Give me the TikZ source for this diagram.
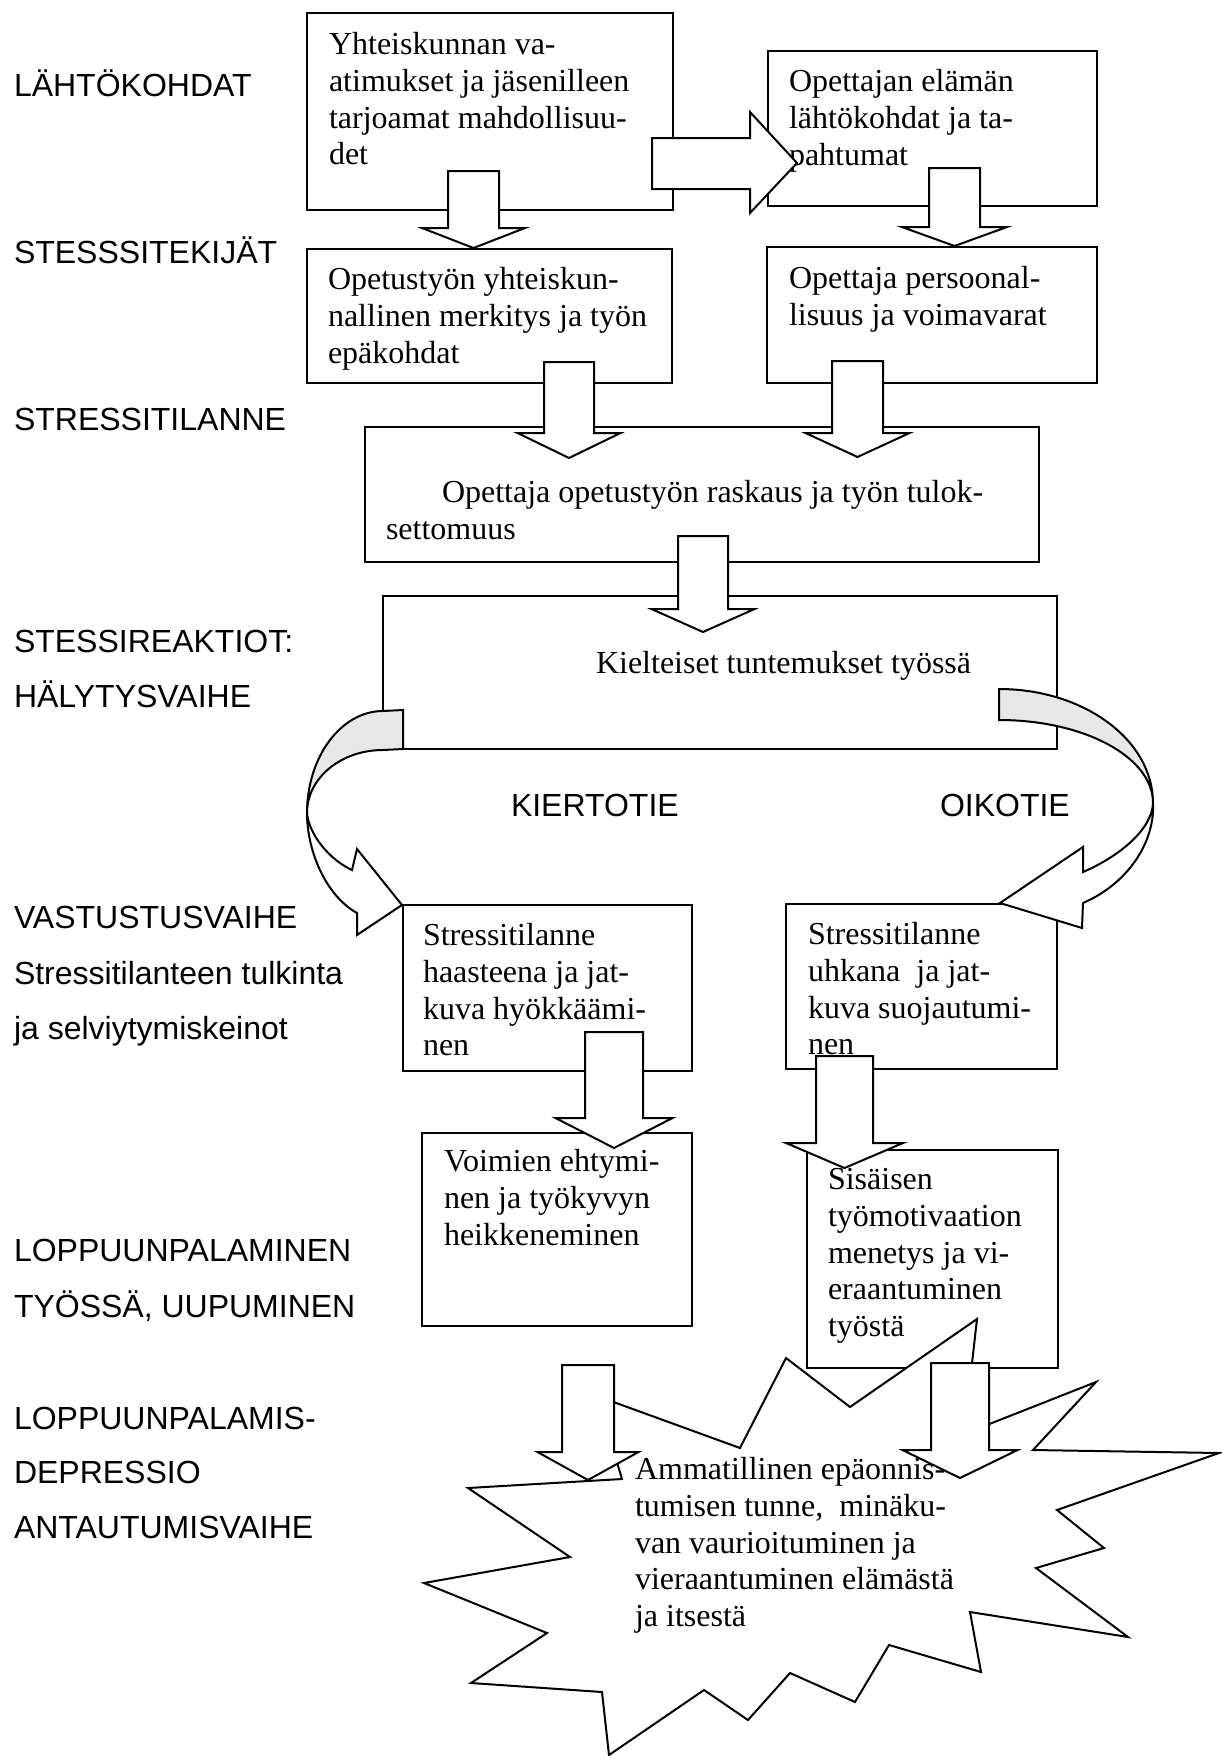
\documentclass[tikz,border=0pt]{standalone}
\usepackage{fontspec}
\setmainfont{Liberation Serif}
\newfontfamily\labelfont{Liberation Sans}
\usetikzlibrary{fit}
\begin{document}
\begin{tikzpicture}[x=0.5pt,y=-0.5pt,line width=1pt,
    box/.style={draw,inner sep=0pt},
    txt/.style={anchor=north west,inner sep=0pt,align=left,font=\fontsize{16}{18.35}\selectfont},
    lbl/.style={anchor=base west,inner sep=0pt,font=\labelfont\fontsize{16}{19}\selectfont},
    blk/.style={draw,fill=white},
    band/.style={draw,fill=gray!18}]
    \useasboundingbox (0,0) rectangle (1221,1756);
    \node[box,fit={(307,13) (673,210)}] (yhteis) {};
    \node[box,fit={(768,51) (1097,206)}] (elama) {};
    \node[box,fit={(307,249) (672,383)}] (merkitys) {};
    \node[box,fit={(767,247) (1097,383)}] (persoona) {};
    \node[box,fit={(365,427) (1039,562)}] (raskaus) {};
    \node[box,fit={(383,596) (1057,749)}] (kielteiset) {};
    \node[box,fit={(403,905) (692,1071)}] (haaste) {};
    \node[box,fit={(786,904) (1057,1069)}] (uhka) {};
    \node[box,fit={(422,1133) (692,1326)}] (voimat) {};
    \node[box,fit={(807,1150) (1058,1368)}] (motiv) {};
    \draw[blk] (597,1396) -- (740,1448) -- (786,1358) -- (850,1407) -- (977,1319) -- (964,1434)
        -- (1096,1382) -- (1033,1450) -- (1219,1453) -- (1057,1510) -- (1104,1548) -- (1036,1568)
        -- (1128,1637) -- (970,1612) -- (981,1672) -- (889,1645) -- (855,1702) -- (790,1673)
        -- (748,1720) -- (704,1690) -- (609,1755) -- (602,1692) -- (471,1683) -- (547,1633)
        -- (424,1583) -- (570,1557) -- (468,1488) -- (622,1479) -- cycle;
    \node[txt] (yhteis-t) at ([shift={(22,16)}]yhteis.north west) {\strut Yhteiskunnan va-\\atimukset ja jäsenilleen\\tarjoamat mahdollisuu-\\det};
    \node[txt] (elama-t) at ([shift={(21,15)}]elama.north west) {\strut Opettajan elämän\\lähtökohdat ja ta-\\pahtumat};
    \node[txt] (merkitys-t) at ([shift={(21,15)}]merkitys.north west) {\strut Opetustyön yhteiskun-\\nallinen merkitys ja työn\\epäkohdat};
    \node[txt] (persoona-t) at ([shift={(22,16)}]persoona.north west) {\strut Opettaja persoonal-\\lisuus ja voimavarat};
    \node[txt] (raskaus-t) at ([shift={(21,50)}]raskaus.north west) {\strut\hspace*{28pt}Opettaja opetustyön raskaus ja työn tulok-\\settomuus};
    \node[txt] (kielteiset-t) at ([shift={(213,52)}]kielteiset.north west) {\strut Kielteiset tuntemukset työssä};
    \node[txt] (haaste-t) at ([shift={(20,15)}]haaste.north west) {\strut Stressitilanne\\haasteena ja jat-\\kuva hyökkäämi-\\nen};
    \node[txt] (uhka-t) at ([shift={(22,15)}]uhka.north west) {\strut Stressitilanne\\uhkana\ \ ja jat-\\kuva suojautumi-\\nen};
    \node[txt] (voimat-t) at ([shift={(22,13)}]voimat.north west) {\strut Voimien ehtymi-\\nen ja työkyvyn\\heikkeneminen};
    \node[txt] (motiv-t) at ([shift={(21,14)}]motiv.north west) {\strut Sisäisen\\työmotivaation\\menetys ja vi-\\eraantuminen\\työstä};
    \node[txt] (tunne) at (634,1453) {\strut Ammatillinen epäonnis-\\tumisen tunne,\ \ minäku-\\van vaurioituminen ja\\vieraantuminen elämästä\\ja itsestä};
    \draw[band] (403,710) -- (403,749) -- (383,750) .. controls (341,750) and (307,778) .. (307,813)
        .. controls (307,757) and (341,711) .. (383,711) -- cycle;
    \draw[blk] (307,813) .. controls (309,835) and (330,860) .. (352,870) -- (357,849) -- (402,905)
        -- (357,935) -- (357,913) .. controls (325,895) and (307,850) .. (307,813) -- cycle;
    \draw[band] (999,689) -- (999,720) .. controls (1084,720) and (1153,757) .. (1153,803)
        .. controls (1153,740) and (1084,689) .. (999,689) -- cycle;
    \draw[blk] (1153,803) .. controls (1152,830) and (1118,857) .. (1083,872) -- (1083,847) -- (1000,903)
        -- (1082,928) -- (1083,903) .. controls (1125,885) and (1155,845) .. (1153,803) -- cycle;
    \draw[blk] (652,138) -- (750,138) -- (750,112) -- (797,163) -- (750,213) -- (750,189) -- (652,189) -- cycle;
    \foreach \xc/\yt/\yh/\yp/\sw/\hw in {473.5/171/228/248/25.5/51.5, 954.5/168/227/246/25.5/52.5,
        569/362/433/458/25/51.5, 857.5/361/433/457/25.5/52, 703/536/609/632/25/51.5,
        614/1032/1118/1148/29/58.5, 844.5/1056/1143/1168/28.5/58.5,
        588/1365/1452/1480/26/50.5, 960/1363/1450/1478/29/57.5}{
            \draw[blk] (\xc-\sw,\yt) -- (\xc+\sw,\yt) -- (\xc+\sw,\yh) -- (\xc+\hw,\yh) -- (\xc,\yp)
                -- (\xc-\hw,\yh) -- (\xc-\sw,\yh) -- cycle;
        }
    \node[lbl] (lahto) at (13,96) {LÄHTÖKOHDAT};
    \node[lbl] (tekijat) at (13,263) {STESSSITEKIJÄT};
    \node[lbl] (tilanne) at (13,430) {STRESSITILANNE};
    \node[lbl] (reaktiot) at (13,652) {STESSIREAKTIOT:};
    \node[lbl] (halytys) at (13,707) {HÄLYTYSVAIHE};
    \node[lbl] (vastustus) at (13,928) {VASTUSTUSVAIHE};
    \node[lbl] (tulkinta) at (13,984) {Stressitilanteen tulkinta};
    \node[lbl] (selviyt) at (13,1039) {ja selviytymiskeinot};
    \node[lbl] (loppu) at (13,1261) {LOPPUUNPALAMINEN};
    \node[lbl] (uupum) at (13,1317) {TYÖSSÄ, UUPUMINEN};
    \node[lbl] (loppupal) at (13,1429) {LOPPUUNPALAMIS-};
    \node[lbl] (depr) at (13,1483) {DEPRESSIO};
    \node[lbl] (antaut) at (13,1538) {ANTAUTUMISVAIHE};
    \node[lbl] (kierto) at (510,816) {KIERTOTIE};
    \node[lbl] (oiko) at (939,816) {OIKOTIE};
\end{tikzpicture}
\end{document}
